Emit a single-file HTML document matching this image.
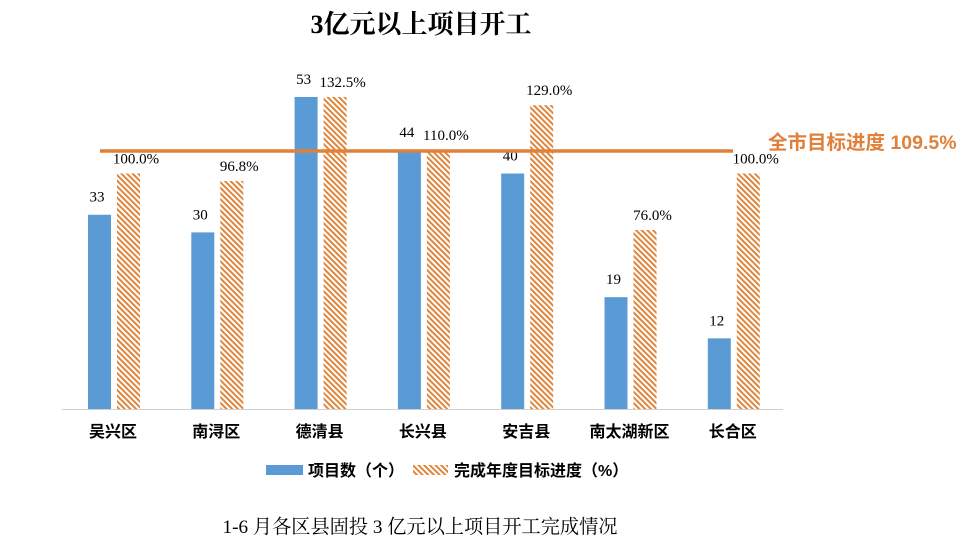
<!DOCTYPE html>
<html><head><meta charset="utf-8"><style>
body{margin:0;background:#fff;width:959px;height:545px;overflow:hidden}
svg{display:block}
.s{font-family:"Liberation Serif","Noto Serif CJK SC",serif}
.c{font-family:"Liberation Sans","Noto Sans CJK SC",sans-serif}
</style></head><body>
<svg width="959" height="545" xmlns="http://www.w3.org/2000/svg">
<defs>
<pattern id="h" patternUnits="userSpaceOnUse" width="4" height="4" patternTransform="rotate(45)">
<rect width="4" height="4" fill="#fff"/>
<rect width="4" height="2" fill="#E0863C"/>
</pattern>
</defs>
<text x="421" y="33" text-anchor="middle" class="s" font-size="26" font-weight="bold">3亿元以上项目开工</text>
<line x1="62" y1="409.5" x2="783" y2="409.5" stroke="#d0d0d0" stroke-width="1"/>
<g id="bars"></g>
<line x1="100" y1="151" x2="733" y2="151" stroke="#E0803A" stroke-width="3.5"/>
<text x="768" y="149" class="c" font-size="19.5" font-weight="bold" fill="#E0803A">全市目标进度 109.5%</text>
<rect x="266" y="465" width="37" height="10" fill="#5B9BD5"/>
<text x="308" y="476" class="c" font-size="16" font-weight="bold">项目数（个）</text>
<rect x="413" y="465" width="35" height="10" fill="url(#h)"/>
<text x="454" y="476" class="c" font-size="16" font-weight="bold">完成年度目标进度（%）</text>
<text x="420" y="533" text-anchor="middle" class="s" font-size="19.2">1-6 月各区县固投 3 亿元以上项目开工完成情况</text>
</svg>
<script>
var names=["吴兴区","南浔区","德清县","长兴县","安吉县","南太湖新区","长合区"];
var n=[33,30,53,44,40,19,12],p=[100.0,96.8,132.5,110.0,129.0,76.0,100.0];
var g=document.getElementById("bars"),h="",base=409;
for(var i=0;i<7;i++){var c=113+i*103.3;
var bh=n[i]*5.887,ph=p[i]*2.355;
h+='<rect x="'+(c-25)+'" y="'+(base-bh)+'" width="23" height="'+bh+'" fill="#5B9BD5"/>';
h+='<rect x="'+(c+4)+'" y="'+(base-ph)+'" width="23" height="'+ph+'" fill="url(#h)"/>';
h+='<text x="'+(c-16)+'" y="'+(base-bh-13)+'" text-anchor="middle" class="s" font-size="15">'+n[i]+'</text>';
h+='<text x="'+(c+23)+'" y="'+(base-ph-10)+'" text-anchor="middle" class="s" font-size="15">'+p[i].toFixed(1)+'%</text>';
h+='<text x="'+c+'" y="437" text-anchor="middle" class="c" font-size="16" font-weight="bold">'+names[i]+'</text>';}
g.innerHTML=h;
</script>
</body></html>
